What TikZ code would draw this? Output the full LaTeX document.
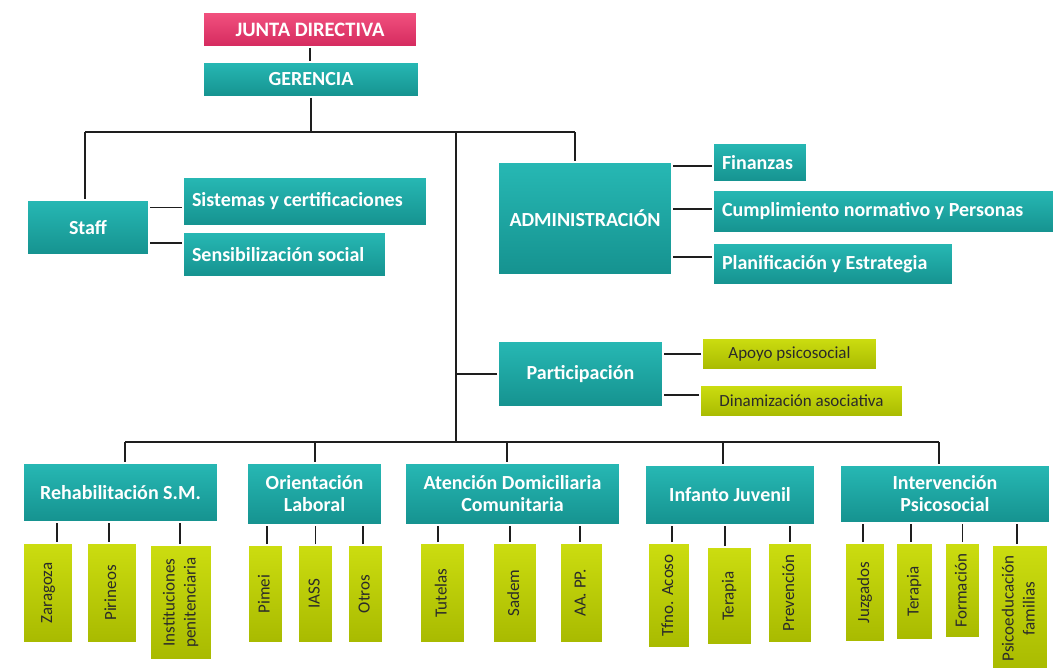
\documentclass[tikz,border=0pt]{standalone}
\usepackage{fontspec}
\setmainfont{Carlito}
\usepackage{graphicx}
\usetikzlibrary{shadows}
\definecolor{tealT}{HTML}{27B8B4}
\definecolor{tealB}{HTML}{15928F}
\definecolor{pinkT}{HTML}{F2517F}
\definecolor{pinkB}{HTML}{D42A5E}
\definecolor{grnT}{HTML}{CCDD10}
\definecolor{grnB}{HTML}{A8BA00}
\definecolor{lineC}{HTML}{1E1E1E}
\definecolor{txtD}{HTML}{2A2A2A}
\tikzset{
  basebox/.style={draw=white, line width=1.6pt, align=center, inner sep=2pt,
    drop shadow={shadow xshift=1.2pt, shadow yshift=-1.4pt, opacity=0.3, fill=black}},
  tealbox/.style={basebox, top color=tealT, bottom color=tealB, text=white,
    font=\bfseries\fontsize{20}{22}\selectfont},
  pinkbox/.style={basebox, top color=pinkT, bottom color=pinkB, text=white,
    font=\bfseries\fontsize{20.5}{22}\selectfont},
  leftbox/.style={tealbox, inner xsep=9pt},
  grnbox/.style={basebox, top color=grnT, bottom color=grnB, text=txtD,
    font=\fontsize{17}{21}\selectfont},
  conn/.style={draw=lineC, line width=1.1pt}
}
\newcommand\leaf[8]{%
  \node[grnbox, minimum width=#4pt, minimum height=#5pt] (#1) at (#2,#3)
    {\rotatebox{90}{\begin{tabular}{@{}c@{}}#6\end{tabular}}};
  \draw[conn] ([xshift=#8pt]#1.north) -- ([xshift=#8pt]#1.north |- #7.south);}
\newcommand\lbox[2]{\makebox[#1pt][l]{#2}}
\begin{document}
\begin{tikzpicture}[x=1pt,y=-1pt]
\useasboundingbox (0,0) rectangle (1059,667);
% top
\node[pinkbox, minimum width=214pt, minimum height=35pt] (jd) at (310,29.5) {JUNTA DIRECTIVA};
\node[tealbox, minimum width=216pt, minimum height=35pt] (ger) at (311,79.5) {GERENCIA};
\draw[conn] (jd.south) -- (jd.south |- ger.north);
\coordinate (hL) at (85,132);
\coordinate (hM) at (456,132);
\coordinate (hR) at (575,132);
\coordinate (bL) at (125,442);
\coordinate (bM) at (456,442);
\coordinate (bR) at (939,442);
\coordinate (b2) at (315,442);
\coordinate (b3) at (507,442);
\coordinate (b4) at (723,442);
\draw[conn] (ger.south) -- (ger.south |- hM);
\draw[conn] (hL) -- (hR);
\draw[conn] (hM) -- (bM);
\draw[conn] (bL) -- (bR);
% staff
\node[tealbox, minimum width=122pt, minimum height=55pt] (staff) at (88,227.5) {Staff};
\node[leftbox, minimum height=49pt] (sist) at (305,201.5) {\lbox{226}{Sistemas y certificaciones}};
\node[leftbox, minimum height=45pt] (sens) at (284.5,254.5) {\lbox{185}{Sensibilización social}};
\draw[conn] (hL) -- (hL |- staff.north);
\draw[conn] ([yshift=-6pt]sist.west) -- ([yshift=-6pt]sist.west -| staff.east);
\draw[conn] ([yshift=11.5pt]sens.west) -- ([yshift=11.5pt]sens.west -| staff.east);
% administracion
\node[tealbox, minimum width=174pt, minimum height=113pt] (admin) at (585,218.5) {ADMINISTRACIÓN};
\node[leftbox, minimum height=39pt] (fin) at (760,162.5) {\lbox{76}{Finanzas}};
\node[leftbox, minimum height=43pt] (cump) at (883.5,211.5) {\lbox{323}{Cumplimiento normativo y Personas}};
\node[leftbox, minimum height=42pt] (plan) at (833,264) {\lbox{222}{Planificación y Estrategia}};
\draw[conn] (hR) -- (hR |- admin.north);
\draw[conn] ([yshift=-3.5pt]fin.west) -- ([yshift=-3.5pt]fin.west -| admin.east);
\draw[conn] ([yshift=2.5pt]cump.west) -- ([yshift=2.5pt]cump.west -| admin.east);
\draw[conn] ([yshift=7pt]plan.west) -- ([yshift=7pt]plan.west -| admin.east);
% participacion
\node[tealbox, minimum width=165pt, minimum height=66pt] (part) at (580.5,374) {Participación};
\node[grnbox, minimum width=175pt, minimum height=32pt] (apoyo) at (789.5,354) {Apoyo psicosocial};
\node[grnbox, minimum width=203pt, minimum height=32pt] (dinam) at (801.5,401) {Dinamización asociativa};
\draw[conn] (part.west) -- (part.west -| hM);
\draw[conn] (apoyo.west) -- (apoyo.west -| part.east);
\draw[conn] ([yshift=6pt]dinam.west) -- ([yshift=6pt]dinam.west -| part.east);
% bottom headers
\node[tealbox, minimum width=195pt, minimum height=59pt] (rehab) at (120.5,492.5) {Rehabilitación S.M.};
\node[tealbox, minimum width=135pt, minimum height=62pt] (orient) at (314.5,494) {Orientación\\Laboral};
\node[tealbox, minimum width=215pt, minimum height=62pt] (aten) at (512.5,494) {Atención Domiciliaria\\Comunitaria};
\node[tealbox, minimum width=170pt, minimum height=60pt] (inf) at (730,495) {Infanto Juvenil};
\node[tealbox, minimum width=210pt, minimum height=58pt] (interv) at (945,494) {Intervención\\Psicosocial};
\draw[conn] (bL) -- (bL |- rehab.north);
\draw[conn] (b2) -- (b2 |- orient.north);
\draw[conn] (b3) -- (b3 |- aten.north);
\draw[conn] (b4) -- (b4 |- inf.north);
\draw[conn] (bR) -- (bR |- interv.north);
% leaves
\leaf{zar}{48}{593}{50}{100}{Zaragoza}{rehab}{9}
\leaf{pir}{112}{593}{50}{100}{Pirineos}{rehab}{-3}
\leaf{inst}{181}{602.5}{62}{115}{Instituciones\\penitenciaria}{rehab}{-1}
\leaf{pim}{265.5}{594}{35}{98}{Pimei}{orient}{1.5}
\leaf{iass}{315.5}{594}{35}{98}{IASS}{orient}{0}
\leaf{otr}{365.5}{594}{35}{98}{Otros}{orient}{-2.5}
\leaf{tut}{442.5}{593}{45}{100}{Tutelas}{aten}{-4.5}
\leaf{sad}{515}{593}{44}{100}{Sadem}{aten}{-5}
\leaf{aapp}{581.5}{593}{43}{100}{AA. PP.}{aten}{-1.5}
\leaf{tfno}{669}{595.5}{42}{105}{Tfno. Acoso}{inf}{3}
\leaf{ter}{729.5}{596}{45}{98}{Terapia}{inf}{-4.5}
\leaf{prev}{790}{593}{44}{100}{Prevención}{inf}{0}
\leaf{juz}{865}{592.5}{40}{99}{Juzgados}{interv}{-2}
\leaf{terb}{914.5}{591.5}{37}{97}{Terapia}{interv}{-3.5}
\leaf{form}{962.5}{590.5}{35}{95}{Formación}{interv}{0}
\leaf{psi}{1020}{608.5}{56}{127}{Psicoeducación\\familias}{interv}{-3}
\end{tikzpicture}
\end{document}
